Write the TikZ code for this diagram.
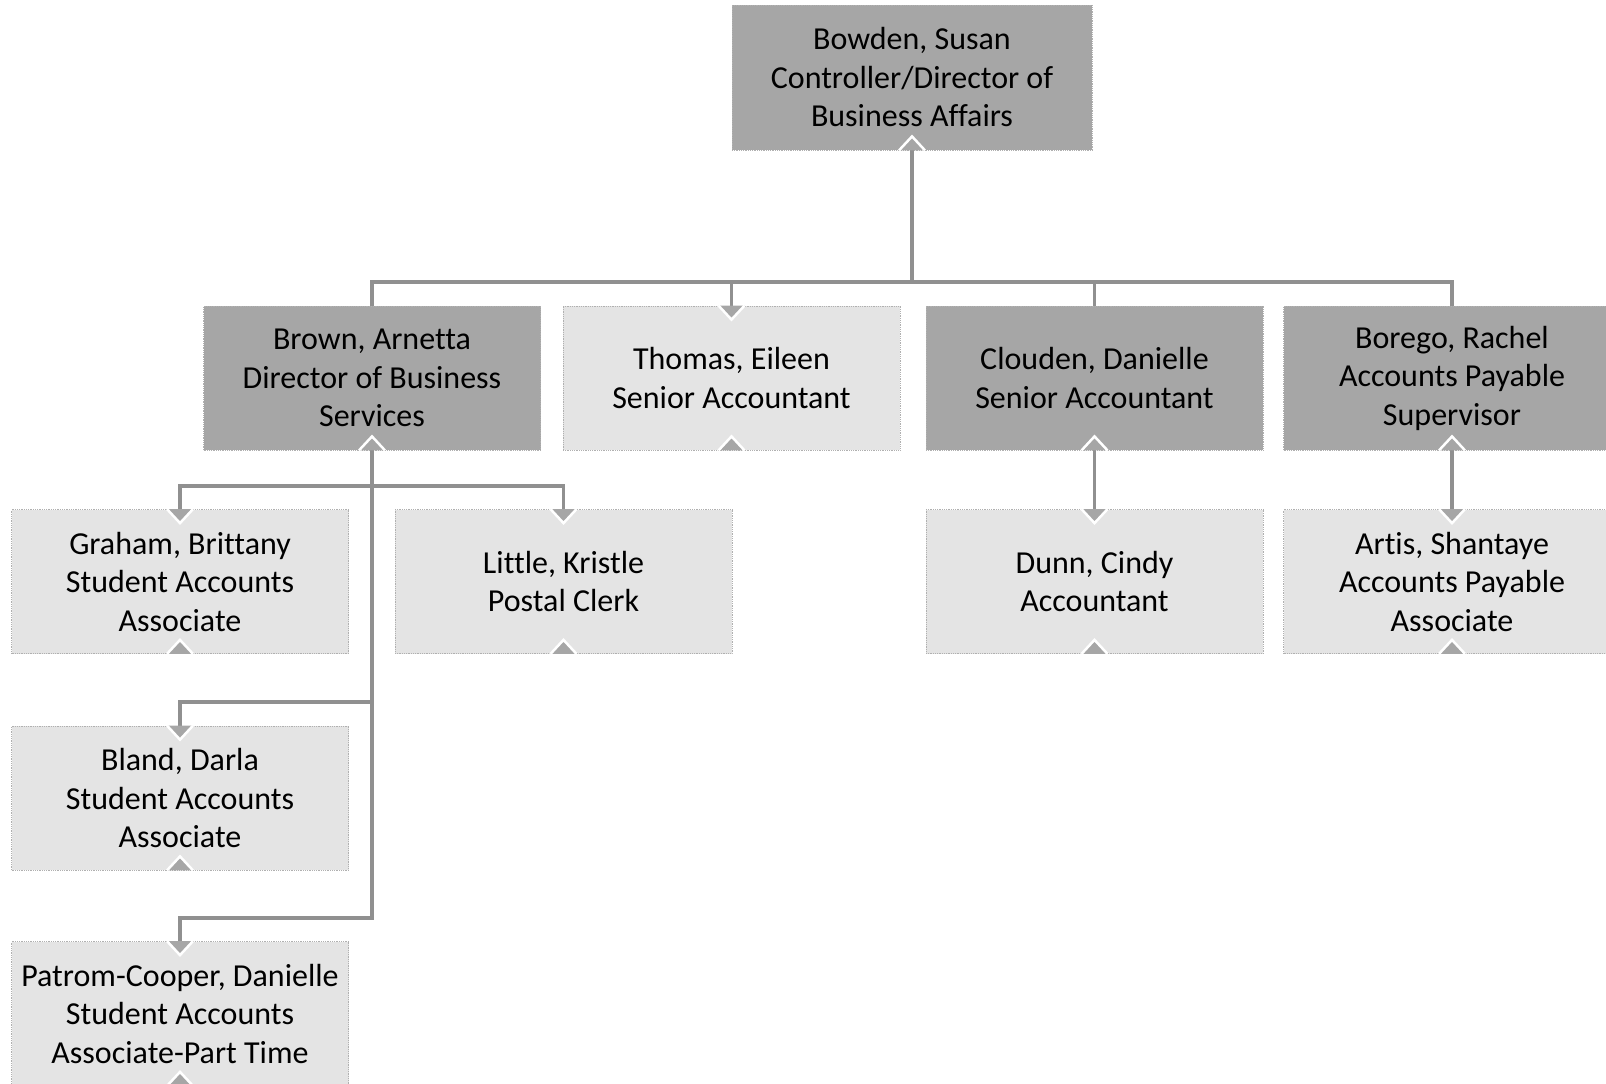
\documentclass[tikz,border=0pt]{standalone}
\usepackage{fontspec}
\setmainfont[Ligatures={NoCommon}]{Carlito}
\usetikzlibrary{calc}
\definecolor{darkbox}{HTML}{A6A6A6}
\definecolor{lightbox}{HTML}{E4E4E4}
\definecolor{linegray}{HTML}{909090}
\definecolor{edgegray}{HTML}{B0B0B0}
\tikzset{
  box/.style={draw=edgegray, densely dotted, line width=0.8pt, minimum width=337pt,
    minimum height=144pt, inner sep=0pt, align=center,
    font=\fontsize{32}{38.5}\selectfont, text=black},
  darkb/.style={box, fill=darkbox},
  lightb/.style={box, fill=lightbox},
  conn/.style={draw=linegray, line width=3.3pt, line join=miter},
  notch/.style={fill=darkbox, draw=white, line width=2.5pt, line join=miter}
}
\newcommand\topnotch[1]{\filldraw[notch] ($(#1.north)+(-13,0)$) -- ($(#1.north)+(0,14)$) -- ($(#1.north)+(13,0)$);}
\newcommand\botnotch[1]{\filldraw[notch] ($(#1.south)+(-13,0)$) -- ($(#1.south)+(0,-14)$) -- ($(#1.south)+(13,0)$);}
\begin{document}
\begin{tikzpicture}[x=1pt,y=-1pt]
\useasboundingbox (0,0) rectangle (1606,1084);
\clip (0,0) rectangle (1606,1084);
\node[darkb, minimum width=360pt, minimum height=145pt] (bowden) at (912,77.5) {Bowden, Susan\\Controller/Director of\\Business Affairs};
\node[darkb] (brown) at (372,378) {Brown, Arnetta\\Director of Business\\Services};
\node[lightb] (thomas) at (731.5,378) {Thomas, Eileen\\Senior Accountant};
\node[darkb] (clouden) at (1094.5,378) {Clouden, Danielle\\Senior Accountant};
\node[darkb] (borego) at (1452,378) {Borego, Rachel\\Accounts Payable\\Supervisor};
\node[lightb] (graham) at (180,581.5) {Graham, Brittany\\Student Accounts\\Associate};
\node[lightb] (little) at (563.5,581.5) {Little, Kristle\\Postal Clerk};
\node[lightb] (dunn) at (1094.5,581.5) {Dunn, Cindy\\Accountant};
\node[lightb] (artis) at (1452,581.5) {Artis, Shantaye\\Accounts Payable\\Associate};
\node[lightb] (bland) at (180,798) {Bland, Darla\\Student Accounts\\Associate};
\node[lightb] (patrom) at (180,1013.5) {Patrom-Cooper, Danielle\\Student Accounts\\Associate-Part Time};
\coordinate (bus) at (0,282);
\coordinate (b1) at (0,486);
\coordinate (b2) at (0,702);
\coordinate (b3) at (0,918);
\foreach \c in {brown,thomas,clouden,borego}
  \draw[conn] (bowden.south) -- (bowden.south |- bus) -| (\c.north);
\draw[conn] (brown.south) -- (brown.south |- b1) -| (graham.north);
\draw[conn] (brown.south) -- (brown.south |- b1) -| (little.north);
\draw[conn] (brown.south) -- (brown.south |- b2) -| (bland.north);
\draw[conn] (brown.south) -- (brown.south |- b3) -| (patrom.north);
\draw[conn] (clouden.south) -- (dunn.north);
\draw[conn] (borego.south) -- (artis.north);
\foreach \c in {bowden,brown,thomas,clouden,borego,graham,little,dunn,artis,bland,patrom}
  \botnotch{\c};
\foreach \c in {thomas,graham,little,dunn,artis,bland,patrom}
  \topnotch{\c};
\end{tikzpicture}
\end{document}
